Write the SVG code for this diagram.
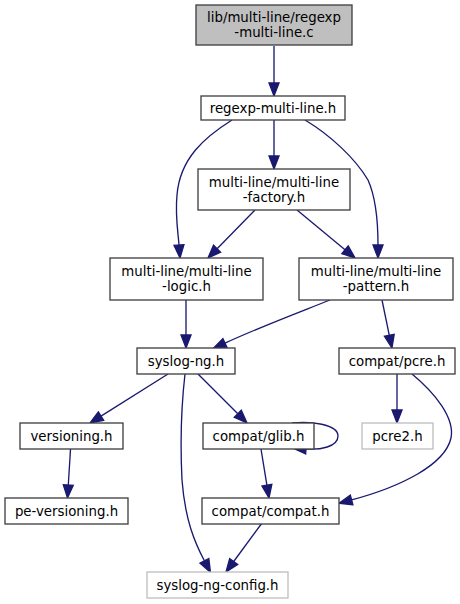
<svg xmlns="http://www.w3.org/2000/svg" width="460" height="604" viewBox="0 0 460 604">
<style>
.n rect{fill:#ffffff;stroke:#404040;stroke-width:1.33}
.n.root rect{fill:#bfbfbf}
.n.ext rect{stroke:#bfbfbf}
.n text{font-family:"DejaVu Sans",sans-serif;font-size:13.33px;fill:#000;text-anchor:middle}
.e path{fill:none;stroke:#191970;stroke-width:1.33;marker-end:url(#ah)}
</style>
<defs>
<marker id="ah" markerUnits="userSpaceOnUse" markerWidth="14" markerHeight="11" refX="0" refY="5" orient="auto" overflow="visible">
<path d="M0,0 L13,5 L0,10 Z" fill="#191970" stroke="#191970" stroke-width="1.33"/>
</marker>
</defs>
<rect width="460" height="604" fill="#ffffff"/>
<g id="edges" class="e">
<path d="M274,46 L274,83"/>
<path d="M274,120 L274,156"/>
<path d="M232,120 C205,137 180,158 177,195 C175,215 178,232 179,245"/>
<path d="M305,120 C330,135 355,158 368,180 C377,200 378,225 378,245"/>
<path d="M255,210 L217.1,248.7"/>
<path d="M297,210 L345,249.7"/>
<path d="M186,300 L186,335"/>
<path d="M330,300 C300,312 260,327 225,343.1"/>
<path d="M382,300 L389.3,335.3"/>
<path d="M168,374 L101,416.1"/>
<path d="M198,374 L237.8,413.8"/>
<path d="M185,374 C182,400 180,440 182,480 C185,520 195,543 204.4,560.8"/>
<path d="M292,423 C310,421 338,424 338,436 C338,447 320,450 306,449"/>
<path d="M70.5,449 L68.3,485"/>
<path d="M261,449 L266.9,485.2"/>
<path d="M397,374 L397,410"/>
<path d="M412,374 C435,393 455,418 451,438 C445,465 400,487 351.6,499.9"/>
<path d="M262,523 L233.7,561.5"/>
</g>
<g id="node1" class="n root">
<rect x="196" y="5" width="156" height="40"/>
<text x="274" y="22">lib/multi-line/regexp</text>
<text x="274" y="37">-multi-line.c</text>
</g>
<g id="node2" class="n">
<rect x="201" y="96" width="144" height="24"/>
<text x="273" y="112.5">regexp-multi-line.h</text>
</g>
<g id="node3" class="n">
<rect x="198" y="169" width="152" height="41"/>
<text x="274" y="187">multi-line/multi-line</text>
<text x="274" y="201.5">-factory.h</text>
</g>
<g id="node4" class="n">
<rect x="110" y="258" width="153" height="42"/>
<text x="186.5" y="276.2">multi-line/multi-line</text>
<text x="186.5" y="290.8">-logic.h</text>
</g>
<g id="node5" class="n">
<rect x="299" y="258" width="154" height="42"/>
<text x="376" y="276.2">multi-line/multi-line</text>
<text x="376" y="290.8">-pattern.h</text>
</g>
<g id="node6" class="n">
<rect x="137" y="348" width="98" height="26"/>
<text x="186" y="365.5">syslog-ng.h</text>
</g>
<g id="node7" class="n">
<rect x="339" y="348" width="116" height="26"/>
<text x="397" y="365.5">compat/pcre.h</text>
</g>
<g id="node8" class="n">
<rect x="20" y="423" width="103" height="26"/>
<text x="71.5" y="440.5">versioning.h</text>
</g>
<g id="node9" class="n">
<rect x="203" y="423" width="111" height="26"/>
<text x="258.5" y="440.5">compat/glib.h</text>
</g>
<g id="node10" class="n ext">
<rect x="362" y="423" width="71" height="26"/>
<text x="397.5" y="440.5">pcre2.h</text>
</g>
<g id="node11" class="n">
<rect x="5" y="498" width="123" height="26"/>
<text x="66.5" y="515.5">pe-versioning.h</text>
</g>
<g id="node12" class="n">
<rect x="202" y="498" width="137" height="26"/>
<text x="270.5" y="515.5">compat/compat.h</text>
</g>
<g id="node13" class="n ext">
<rect x="147" y="572" width="141" height="26"/>
<text x="217.5" y="589.5">syslog-ng-config.h</text>
</g>
</svg>
